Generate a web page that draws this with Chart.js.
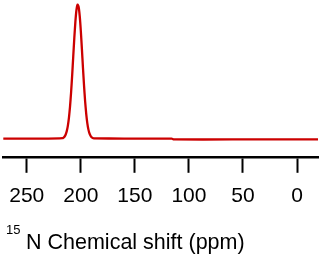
<!DOCTYPE html>
<html>
<head>
<meta charset="utf-8">
<script src="https://cdn.jsdelivr.net/npm/chart.js@4/dist/chart.umd.min.js"></script>
<style>
  body { margin: 0; background: #fff; }
  canvas { display: block; }
</style>
</head>
<body>
<canvas id="chart" width="323" height="254"></canvas>
<script>
// 15N spectrum (ppm, arbitrary intensity)
const shiftPpm = [271.7, 230, 217, 216, 215, 214, 213, 212, 211, 210, 209, 208, 207, 206, 205, 204, 203,
  202, 201, 200, 199, 198, 197, 196, 195, 194, 193, 192, 191, 190, 189, 188, 160, 116, 114, 60, -19.4];
const intensity = [0, 0, 0.3, 0.8, 1.6, 3.1, 5.6, 9.5, 15.5, 23.7, 34.4, 47.2, 61.2, 75.2, 87.4, 96.1, 99.9,
  98.2, 91.4, 80.4, 66.9, 52.7, 39.3, 27.7, 18.4, 11.6, 6.9, 3.9, 2.1, 1.0, 0.4, 0.2, 0, 0, -0.6, -0.6, -0.6];
const tickValues = [250, 200, 150, 100, 50, 0];
const axisTitle = "N Chemical shift (ppm)";
const isotope = "15";

const points = shiftPpm.map((x, i) => ({ x: x, y: intensity[i] }));

const titlePlugin = {
  id: "nucleusTitle",
  afterDraw(chart) {
    const c = chart.ctx;
    c.save();
    c.fillStyle = "#000";
    c.textBaseline = "alphabetic";
    c.textAlign = "left";
    c.font = "13px 'Liberation Sans', Arial, sans-serif";
    c.fillText(isotope, 6, 234);
    c.font = "21.5px 'Liberation Sans', Arial, sans-serif";
    c.fillText(axisTitle, 26, 249);
    c.restore();
  }
};

new Chart(document.getElementById("chart").getContext("2d"), {
  type: "line",
  data: {
    datasets: [{
      data: points,
      borderColor: "#cc0000",
      borderWidth: 2.3,
      pointRadius: 0,
      fill: false,
      tension: 0.2,
      clip: false
    }]
  },
  options: {
    responsive: false,
    animation: false,
    layout: { padding: { top: 4.5, left: 3.3, right: 5, bottom: 34 } },
    plugins: { legend: { display: false }, tooltip: { enabled: false } },
    scales: {
      x: {
        type: "linear",
        reverse: true,
        min: -19.4,
        max: 271.7,
        afterBuildTicks: (s) => { s.ticks = tickValues.map((v) => ({ value: v })); },
        afterFit: (s) => { s.paddingLeft = 0; s.paddingRight = 0; },
        border: { display: true, color: "#000", width: 2.5 },
        grid: { drawOnChartArea: false, drawTicks: true, tickLength: 16, tickWidth: 2, tickColor: "#000" },
        ticks: {
          color: "#000",
          padding: 11,
          maxRotation: 0,
          font: { family: "'Liberation Sans', Arial, sans-serif", size: 21 }
        }
      },
      y: {
        display: false,
        min: -13.55,
        max: 100
      }
    }
  },
  plugins: [titlePlugin]
});
</script>
</body>
</html>
